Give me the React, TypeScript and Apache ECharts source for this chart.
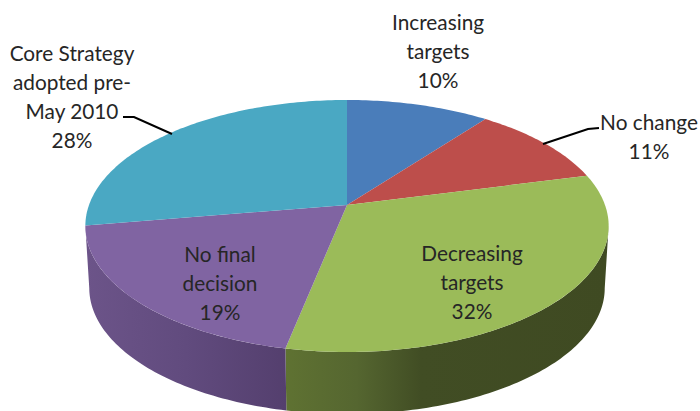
import React, { useEffect, useRef } from "react";
import * as echarts from "echarts";

const categories = [
  "Increasing\ntargets",
  "No change",
  "Decreasing\ntargets",
  "No final\ndecision",
  "Core Strategy\nadopted pre-\nMay 2010",
];
// The printed labels are these values rounded.
const shares = [10.4, 10.6, 32.2, 19.2, 27.6];

const topColors = ["#4a7dba", "#bd4e4b", "#9bbb59", "#8064a2", "#4aa8c3"];
const sideStops: [number, string][][] = [
  [[0, "#2c4a70"], [1, "#2c4a70"]],
  [[0, "#702e2c"], [1, "#702e2c"]],
  [[0, "#5f7232"], [0.22, "#556630"], [0.42, "#414d24"], [1, "#3f4a22"]],
  [[0, "#6c5489"], [0.5, "#614b7e"], [1, "#543f6e"]],
  [[0, "#2c6474"], [1, "#2c6474"]],
];

// Text boxes (centre x, centre y of the block) and leader lines, in page pixels.
const labelCentres = [
  [438, 50.5],
  [649, 136],
  [472, 281],
  [220, 282],
  [72, 95.5],
];
const leaderLines: number[][][] = [
  [[123, 117], [134, 117], [172, 134]],
  [[599, 128], [588, 129], [543, 144]],
];

// Perspective projection of the pie's circular top onto the page.
const APEX_X = 347;
const APEX_Y = 205;
const HALF_W = 258;
const HALF_H = 122.5;
const PERSP = 1 / 6;
const DEPTH = 62;
const BASE_SCALE = 0.985;
// Angles between which the pie's wall faces the viewer.
const WALL_FROM = (Math.acos(-PERSP) * 180) / Math.PI;
const WALL_TO = 360 - WALL_FROM;

function project(deg: number): [number, number] {
  const a = (deg * Math.PI) / 180;
  const u = Math.sin(a);
  const v = Math.cos(a);
  const d = 1 + PERSP * v;
  return [APEX_X + (HALF_W * u) / d, APEX_Y - (HALF_H * v) / d];
}

function base(p: [number, number]): [number, number] {
  return [APEX_X + (p[0] - APEX_X) * BASE_SCALE, p[1] + DEPTH];
}

function arc(from: number, to: number): [number, number][] {
  const pts: [number, number][] = [];
  const n = Math.max(2, Math.ceil(to - from));
  for (let i = 0; i <= n; i++) pts.push(project(from + ((to - from) * i) / n));
  return pts;
}

const total = shares.reduce((s, v) => s + v, 0);
const bounds = (i: number): [number, number] => {
  const before = shares.slice(0, i).reduce((s, v) => s + v, 0);
  return [(before / total) * 360, ((before + shares[i]) / total) * 360];
};

export default function App() {
  const ref = useRef<HTMLDivElement>(null);
  useEffect(() => {
    document.body.style.margin = "0";
    const chart = echarts.init(ref.current!, undefined, { renderer: "svg" });
    chart.setOption({
      animation: false,
      backgroundColor: "#ffffff",
      series: [
        {
          type: "custom",
          coordinateSystem: "none",
          silent: true,
          z: 2,
          data: shares,
          renderItem: (params: any) => {
            const i = params.dataIndex;
            const [a, b] = bounds(i);
            const from = Math.max(a, WALL_FROM);
            const to = Math.min(b, WALL_TO);
            if (to <= from) return null;
            const top = arc(from, to);
            const bottom = top.map(base).reverse();
            return {
              type: "polygon",
              shape: { points: [...top, ...bottom] },
              style: {
                fill: new echarts.graphic.LinearGradient(
                  0, 0, 1, 0,
                  sideStops[i].map(([offset, color]) => ({ offset, color })),
                ),
              },
            };
          },
        },
        {
          type: "custom",
          coordinateSystem: "none",
          silent: true,
          z: 3,
          data: shares,
          renderItem: (params: any) => {
            const i = params.dataIndex;
            const [from, to] = bounds(i);
            return {
              type: "polygon",
              shape: { points: [[APEX_X, APEX_Y], ...arc(from, to)] },
              style: { fill: topColors[i] },
            };
          },
        },
      ],
      graphic: {
        elements: [
          ...categories.map((name, i) => ({
            type: "text",
            z: 100,
            x: labelCentres[i][0],
            y: labelCentres[i][1],
            style: {
              text: `${name}\n${Math.round(shares[i])}%`,
              fill: "#262626",
              font: '20.8px Lato, "Open Sans", sans-serif',
              lineHeight: 29,
              align: "center",
              verticalAlign: "middle",
            },
          })),
          ...leaderLines.map((points) => ({
            type: "polyline",
            z: 100,
            shape: { points },
            style: { stroke: "#000000", lineWidth: 2, fill: "none" },
          })),
        ],
      },
    });
    return () => chart.dispose();
  }, []);
  return (
    <div
      ref={ref}
      style={{ position: "absolute", left: 0, top: 0, width: 700, height: 411, overflow: "hidden" }}
    />
  );
}
